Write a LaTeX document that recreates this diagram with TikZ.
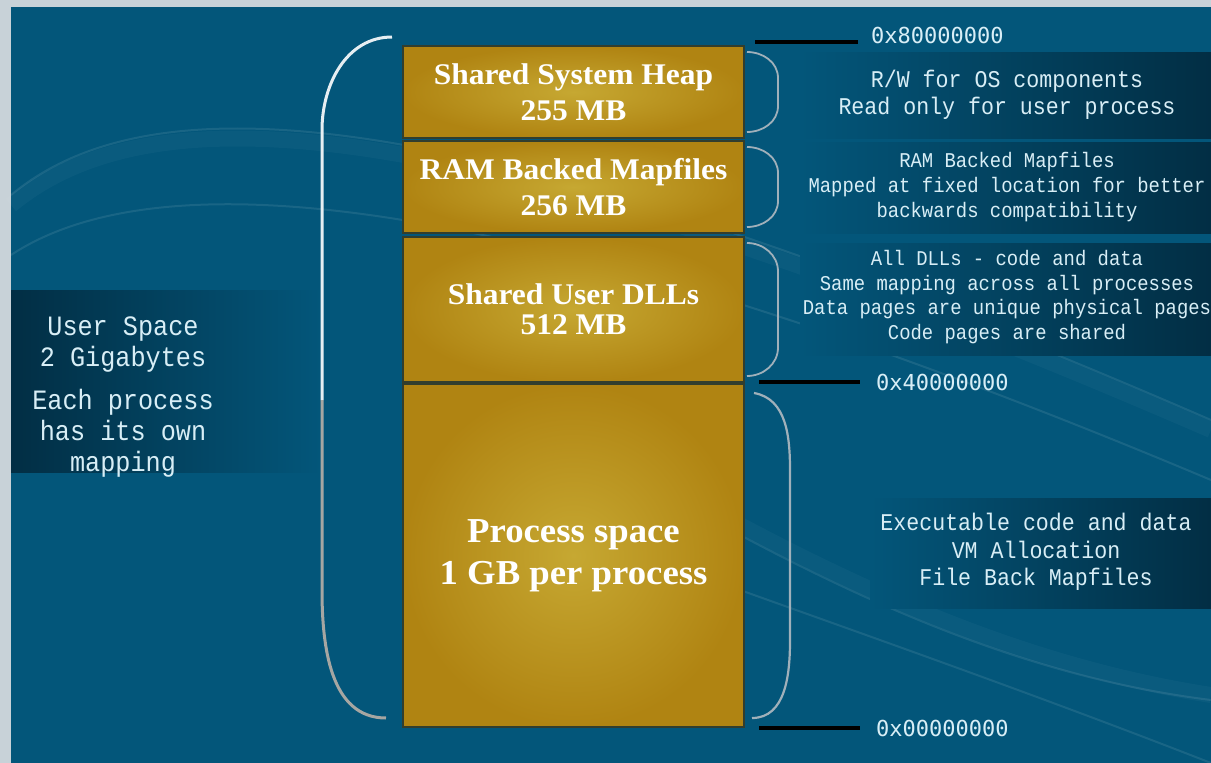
\documentclass[tikz,border=0pt]{standalone}
\usepackage{fontspec}
\setmainfont{Liberation Serif}
\newfontfamily\boxfont[FakeStretch=1.05]{Liberation Serif}
\newfontfamily\descfont[FakeStretch=0.9]{Liberation Mono}
\newfontfamily\addrfont{DejaVu Sans Mono}
\usepackage{xcolor}
\usepackage{tikz}
\usetikzlibrary{positioning,calc}

\definecolor{framegray}{RGB}{200,210,216}
\definecolor{bgblue}{RGB}{3,86,122}
\definecolor{paneldark}{RGB}{2,46,68}
\definecolor{goldlight}{RGB}{198,168,50}
\definecolor{golddark}{RGB}{176,132,18}
\definecolor{boxline}{RGB}{50,62,46}
\definecolor{pale}{RGB}{216,238,246}
\definecolor{bracegray}{RGB}{160,176,186}

\begin{document}
\begin{tikzpicture}[
  x=1pt, y=-1pt,
  node distance=3pt,
  membox/.style={draw=boxline, line width=1.2pt, minimum width=341pt,
                 inner sep=0pt, outer sep=0pt, align=center, text=white,
                 inner color=goldlight, outer color=golddark,
                 font=\boxfont\bfseries\fontsize{30}{36}\selectfont},
  desc/.style={align=center, text=pale, inner sep=0pt},
  addr/.style={anchor=west, text=pale, inner sep=0pt,
               font=\addrfont\fontsize{22}{22}\selectfont},
  tick/.style={line width=4.5pt, black},
  brace/.style={draw=bracegray, line width=1.8pt},
  wave/.style={white, opacity=0.09, line width=2pt},
  glow/.style={white, opacity=0.03, line width=16pt},
]
\useasboundingbox (0,0) rectangle (1211,763);
\fill[framegray] (0,0) rectangle (1211,763);
\fill[bgblue] (11,7) rectangle (1211,763);

% background streaks
\draw[glow] (11,205) .. controls (150,90) and (450,100) .. (1211,430);
\draw[wave] (11,195) .. controls (150,80) and (450,90) .. (1211,420);
\draw[wave] (11,255) .. controls (140,170) and (450,160) .. (1211,480);
\draw[glow] (740,525) .. controls (900,610) and (1050,670) .. (1211,695);
\draw[wave] (740,535) .. controls (900,620) and (1050,680) .. (1211,700);
\draw[wave] (740,590) .. controls (880,640) and (1050,700) .. (1211,763);

% dark bands behind the notes
\foreach \ya/\yb/\xa in {52/138/800, 142/233/800, 243/355/800, 498/608/870}
  \shade[left color=bgblue, right color=paneldark] (\xa,\ya) rectangle (1211,\yb);
\shade[left color=paneldark, right color=bgblue] (11,290) rectangle (320,472);

% memory blocks
\node[membox, minimum height=92pt, anchor=north west] (sysheap) at (403,46)
  {Shared System Heap\\255 MB};
\node[membox, minimum height=92pt, below=3pt of sysheap] (rammap)
  {RAM Backed Mapfiles\\256 MB};
\node[membox, minimum height=145pt, below=4pt of rammap,
      font=\boxfont\bfseries\fontsize{30}{30}\selectfont] (userdll)
  {Shared User DLLs\\512 MB};
\node[membox, minimum height=343pt, below=2pt of userdll,
      font=\boxfont\bfseries\fontsize{35}{42}\selectfont] (procspace)
  {Process space\\1 GB per process};

% address marks
\node[addr] (addrtop) at (871,35) {0x80000000};
\node[addr] (addrmid) at (876,382) {0x40000000};
\node[addr] (addrbot) at (876,728) {0x00000000};
\draw[tick] ($(sysheap.north east)+(11,-4)$) -- ++(103,0);
\draw[tick] ($(userdll.south east)+(15,0)$) -- ++(101,0);
\draw[tick] ($(procspace.south east)+(15,1)$) -- ++(101,0);

% braces
\foreach \blk/\half in {sysheap/14, rammap/14, userdll/38}
  \draw[brace] ($(\blk.north east)+(3,6)$) to[out=0,in=90] ($(\blk.east)+(34,-\half)$)
    -- ($(\blk.east)+(34,\half)$) to[out=-90,in=0] ($(\blk.south east)+(3,-6)$);
\draw[brace, line width=2.2pt] ($(procspace.north east)+(10,9)$) to[out=-10,in=90] ($(procspace.east)+(46,-85)$)
  -- ($(procspace.east)+(46,85)$) to[out=-90,in=0] ($(procspace.south east)+(8,-9)$);
\draw[white!90!bgblue, line width=3pt] ($(sysheap.north west)+(-11,-9)$) to[out=180,in=90] (322,130) -- (322,400);
\draw[bracegray!80!brown, line width=3pt] (322,400) -- (322,590) to[out=-90,in=180] ($(procspace.south west)+(-17,-9)$);

% notes
\node[desc, font=\descfont\fontsize{24}{27}\selectfont] (heapnote) at (1007,95)
  {R/W for OS components\\Read only for user process};
\node[desc, font=\descfont\fontsize{21}{25}\selectfont] (mapnote) at (1007,187)
  {RAM Backed Mapfiles\\Mapped at fixed location for better\\backwards compatibility};
\node[desc, font=\descfont\fontsize{21}{24.7}\selectfont] (dllnote) at (1007,297)
  {All DLLs - code and data\\Same mapping across all processes\\Data pages are unique physical pages\\Code pages are shared};
\node[desc, font=\descfont\fontsize{24}{27.5}\selectfont] (procnote) at (1036,552)
  {Executable code and data\\VM Allocation\\File Back Mapfiles};
\node[desc, font=\descfont\fontsize{28}{31}\selectfont] (usernote) at (123,397)
  {User Space\\2 Gigabytes\\[12pt]Each process\\has its own\\mapping};
\end{tikzpicture}
\end{document}
